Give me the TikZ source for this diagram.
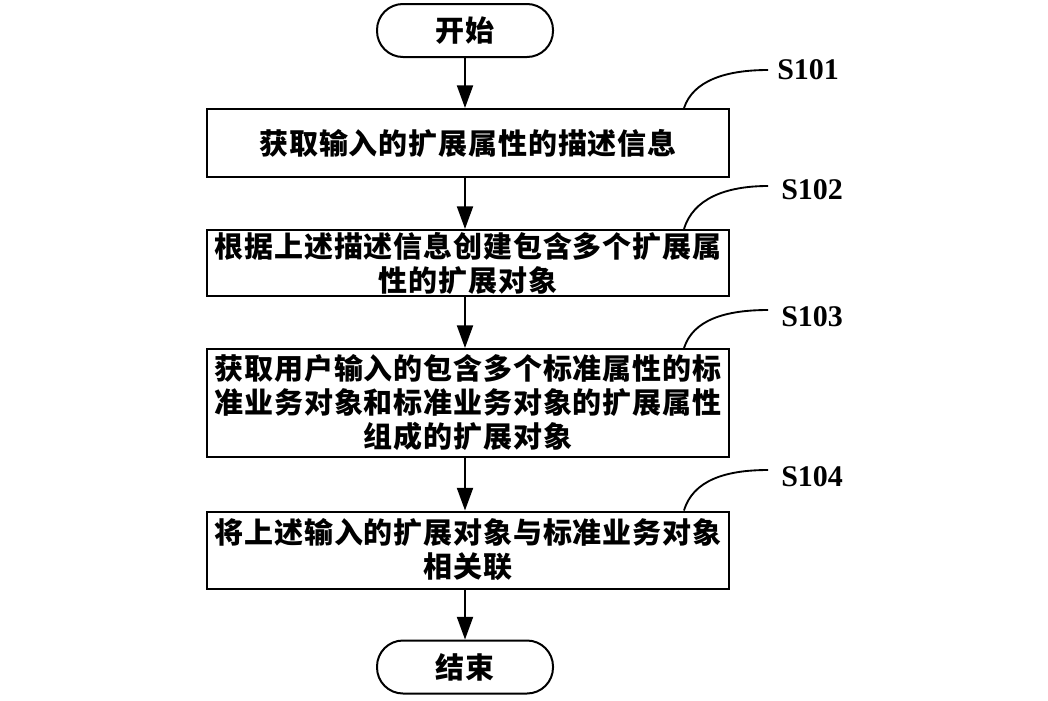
\documentclass[tikz,border=0pt]{standalone}
\usepackage{fontspec}
\setmainfont{Liberation Serif}
\newfontfamily\cjk[LetterSpace=3]{Noto Sans CJK SC}
\usetikzlibrary{arrows.meta,calc}
\tikzset{
  stepbox/.style={draw, line width=1.5pt, minimum width=391.5pt, inner sep=0pt, align=center,
    font=\cjk\bfseries\fontsize{21.75pt}{25.5pt}\selectfont},
  term/.style={draw, line width=1.5pt, minimum width=132pt, minimum height=39.75pt, rounded corners=19.5pt,
    inner sep=0pt, font=\cjk\bfseries\fontsize{21.75pt}{25.5pt}\selectfont},
  flow/.style={line width=1.5pt, -{Triangle[length=17pt,width=12pt]}},
  lead/.style={line width=1.4pt},
  steplabel/.style={anchor=west, inner sep=0pt, font=\bfseries\fontsize{22.5pt}{24pt}\selectfont}
}
\begin{document}
\begin{tikzpicture}[x=0.75pt,y=-0.75pt]
\useasboundingbox (0,0) rectangle (1048,700);
\node[term] (start) at (465,30.5) {开始};
\node[stepbox, minimum height=51pt] (b1) at (468,143) {获取输入的扩展属性的描述信息};
\node[stepbox, minimum height=49.5pt] (b2) at (468,263) {根据上述描述信息创建包含多个扩展属\\性的扩展对象};
\node[stepbox, minimum height=81pt] (b3) at (468,403) {获取用户输入的包含多个标准属性的标\\准业务对象和标准业务对象的扩展属性\\组成的扩展对象};
\node[stepbox, minimum height=57.75pt] (b4) at (468,550) {将上述输入的扩展对象与标准业务对象\\相关联};
\node[term] (end) at (465,667) {结束};

\draw[flow] (start.south) -- (start.south |- b1.north);
\draw[flow] (b1.south -| start) -- (b2.north -| start);
\draw[flow] (b2.south -| start) -- (b3.north -| start);
\draw[flow] (b3.south -| start) -- (b4.north -| start);
\draw[flow] (b4.south -| start) -- (end.north);

\coordinate (e1) at (768,70);
\coordinate (e2) at (768,186);
\coordinate (e3) at (768,310);
\coordinate (e4) at (768,470);
\draw[lead] ($(b1.north east)+(-46,0)$) .. controls ++(9,-27) and ($(e1)+(-43,0)$) .. (e1);
\draw[lead] ($(b2.north east)+(-46,0)$) .. controls ++(9,-30) and ($(e2)+(-43,0)$) .. (e2);
\draw[lead] ($(b3.north east)+(-46,0)$) .. controls ++(9,-28) and ($(e3)+(-43,0)$) .. (e3);
\draw[lead] ($(b4.north east)+(-46,0)$) .. controls ++(9,-30) and ($(e4)+(-43,0)$) .. (e4);
\node[steplabel] (l1) at ($(e1)+(9,0)$) {S101};
\node[steplabel] (l2) at ($(e2)+(13,4)$) {S102};
\node[steplabel] (l3) at ($(e3)+(13,7)$) {S103};
\node[steplabel] (l4) at ($(e4)+(13,7)$) {S104};
\end{tikzpicture}
\end{document}
